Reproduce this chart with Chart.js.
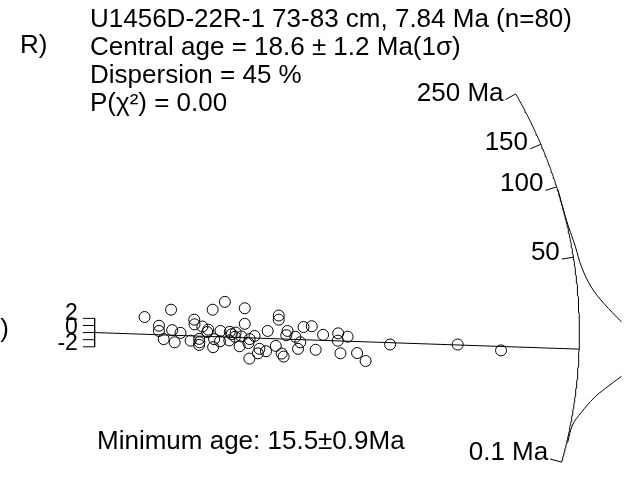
<!DOCTYPE html>
<html>
<head>
<meta charset="utf-8">
<script src="https://cdn.jsdelivr.net/npm/chart.js@4.4.0/dist/chart.umd.min.js"></script>
<style>
  html, body { margin: 0; padding: 0; background: #fff; }
  #radial { display: block; }
</style>
</head>
<body>
<canvas id="radial" width="628" height="488"></canvas>
<script>
// single grain ages, radial plot coordinates
const precision = [5.1, 7.8, 12.05, 13.3, 15.33, 18.8, 18.8, 10.17, 10.2, 6.57,
  6.57, 7.92, 8.77, 11.0, 11.6, 11.5, 12.85, 13.8, 14.0, 14.4,
  15.33, 15.0, 16.33, 15.83, 17.67, 19.7, 21.33, 22.17, 7.05, 8.17,
  9.8, 10.67, 10.7, 10.67, 12.1, 12.2, 12.8, 13.75, 14.33, 14.8,
  15.7, 16.83, 16.67, 17.5, 15.8, 18.5, 19.1, 19.3, 19.57, 20.5,
  21.0, 20.77, 22.57, 23.33, 24.87, 24.83, 25.83, 25.1, 26.8, 27.67,
  30.17, 37.07, 41.5];
const zScore = [2.19, 3.22, 3.22, 4.32, 3.42, 2.40, 1.82, 1.82, 1.16, 0.96,
  0.23, 0.34, -0.04, 0.85, 0.41, 0.07, 0.23, 0.10, -0.23, 0,
  1.23, -0.55, -0.48, -0.92, 0.23, 0.23, 0.78, 0.89, -0.92, -1.37,
  -1.14, -0.89, -1.37, -1.74, -2.05, -0.92, -1.23, -1.10, -0.59, -1.92,
  -1.47, -2.29, -2.92, -2.63, -3.66, -1.88, -2.95, -3.38, -0.37, -0.59,
  -1.37, -2.29, -2.42, -0.32, -0.11, -1.14, -0.58, -2.92, -2.88, -4.00,
  -1.68, -1.68, -2.51];

// radial age scale
const tickLabels = ['250 Ma', '150', '100', '50', '0.1 Ma'];
const tickAngles = [29.7, 23.0, 17.6, 9.0, -15.6];   // degrees
const centralAngle = -1.97;                           // 18.6 Ma
const zTicks = [2, 1, 0, -1, -2];
const zLabels = ['2', '0', '-2'];

// second (outer) curve of the age scale
const curveX = [47.3, 48.1, 49.1, 49.7, 50.7, 52.0, 53.8, 55.5, null,
  55.5, 53.8, 52.2, 51.0, 49.7, 48.8, 48.3];
const curveY = [20.14, 16.16, 12.05, 9.32, 6.44, 4.11, 1.51, -0.68, null,
  -4.52, -6.16, -7.81, -9.18, -11.23, -13.01, -15.48];

const infoLines = [
  'U1456D-22R-1 73-83 cm, 7.84 Ma (n=80)',
  'Central age = 18.6 \u00b1 1.2 Ma(1\u03c3)',
  'Dispersion = 45 %',
  'P(\u03c7\u00b2) = 0.00'
];
const minAgeText = 'Minimum age: 15.5\u00b10.9Ma';

// px per unit on each axis
const XPX = 10, YPX = 7.3, R = 495, TICK = 12;
const FONT = '"Liberation Sans", Arial, sans-serif';

function polar(r, deg) {
  const a = deg * Math.PI / 180;
  return { x: r * Math.cos(a) / XPX, y: r * Math.sin(a) / YPX };
}

const points = precision.map((x, i) => ({ x: x, y: zScore[i] }));

const arc = [];
for (let d = tickAngles[4]; d <= tickAngles[0] + 0.001; d += 0.25) arc.push(polar(R, d));

const radialTicks = [];
tickAngles.forEach(d => { radialTicks.push(polar(R, d), polar(R - TICK, d), { x: null, y: null }); });

const zAxis = [{ x: 0, y: zTicks[0] }, { x: 0, y: zTicks[zTicks.length - 1] }, { x: null, y: null }];
zTicks.forEach(t => { zAxis.push({ x: -1.2, y: t }, { x: 0, y: t }, { x: null, y: null }); });

const curve = curveX.map((x, i) => ({ x: x, y: curveY[i] }));

const lineStyle = { showLine: true, pointRadius: 0, borderColor: '#000', borderWidth: 1, spanGaps: false, fill: false };

const textPlugin = {
  id: 'texts',
  afterDatasetsDraw(chart) {
    const ctx = chart.ctx, xs = chart.scales.x, ys = chart.scales.y;
    ctx.save();
    ctx.fillStyle = '#000';
    ctx.font = '26px ' + FONT;
    ctx.textAlign = 'left';
    ctx.textBaseline = 'middle';
    infoLines.forEach((t, i) => ctx.fillText(t, 90, 20 + i * 28));
    ctx.fillText('R)', 20, 46);
    ctx.fillText(minAgeText, 97, 442);
    ctx.textAlign = 'right';
    ctx.fillText(')', 9, 330);
    // age labels at the inner end of each tick
    ctx.textBaseline = 'alphabetic';
    tickAngles.forEach((d, i) => {
      const p = polar(R - TICK, d);
      ctx.fillText(tickLabels[i], xs.getPixelForValue(p.x) - 2, ys.getPixelForValue(p.y) + 1);
    });
    // z axis labels, slightly staggered as in the original
    ctx.font = '23px ' + FONT;
    ctx.textBaseline = 'middle';
    [2, 0, -2].forEach((v, i) => {
      ctx.fillText(zLabels[i], xs.getPixelForValue(-1.2) - 5, ys.getPixelForValue(v) - 5 + (v < 0 ? 2 : 0));
    });
    ctx.restore();
  }
};

new Chart(document.getElementById('radial'), {
  type: 'scatter',
  data: {
    datasets: [
      Object.assign({ data: arc }, lineStyle),
      Object.assign({ data: curve, tension: 0.4 }, lineStyle),
      Object.assign({ data: radialTicks }, lineStyle),
      Object.assign({ data: zAxis }, lineStyle),
      Object.assign({ data: [{ x: 0, y: 0 }, polar(R, centralAngle)] }, lineStyle),
      {
        data: points,
        pointStyle: 'circle',
        pointRadius: 5.5,
        pointBorderWidth: 1,
        pointBorderColor: '#000',
        pointBackgroundColor: 'rgba(0,0,0,0)',
        showLine: false
      }
    ]
  },
  options: {
    responsive: false,
    animation: false,
    layout: { padding: 0 },
    plugins: { legend: { display: false }, tooltip: { enabled: false } },
    scales: {
      x: { type: 'linear', display: false, min: -90 / XPX, max: 538 / XPX },
      y: { type: 'linear', display: false, min: -153 / YPX, max: 335 / YPX }
    }
  },
  plugins: [textPlugin]
});
</script>
</body>
</html>
